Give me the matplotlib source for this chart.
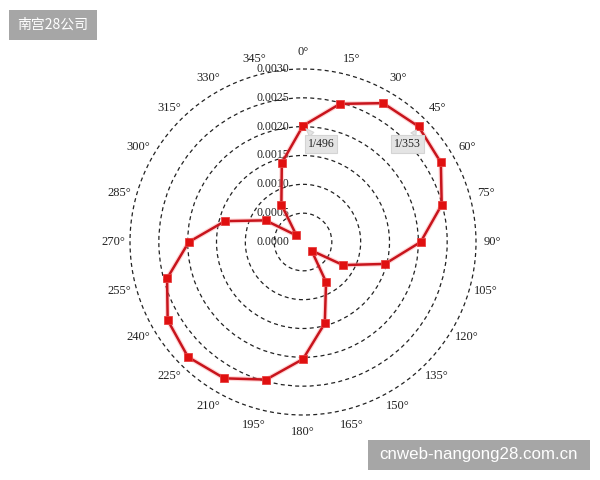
import numpy as np
import matplotlib
matplotlib.use("Agg")
import matplotlib.pyplot as plt
from matplotlib.transforms import offset_copy
from matplotlib.patches import Rectangle

# Data
angles_deg = [0, 15, 30, 45, 60, 75, 90, 105, 120, 135, 150, 165,
              180, 195, 210, 225, 240, 255, 270, 285, 300, 315, 330, 345]
values = [0.002016, 0.00248, 0.00278, 0.002833, 0.00276, 0.00249, 0.00204, 0.00147,
          0.00080, 0.00021, 0.00080, 0.00146, 0.00203, 0.00247, 0.00273, 0.00282,
          0.00271, 0.00244, 0.00198, 0.00140, 0.00075, 0.00016, 0.00075, 0.00142]
r_ticks = [0.0000, 0.0005, 0.0010, 0.0015, 0.0020, 0.0025, 0.0030]
r_tick_labels = ["0.0000", "0.0005", "0.0010", "0.0015", "0.0020", "0.0025", "0.0030"]
theta_ticks = list(range(0, 360, 15))
theta_labels = [f"{a}°" for a in theta_ticks]
annot_angles = [0, 45]
annot_texts = ["1/496", "1/353"]

serif = ["Liberation Serif", "DejaVu Serif"]

fig = plt.figure(figsize=(6, 4.8), dpi=100)
ax = fig.add_axes([130/600, 65/480, 346/600, 346/480], projection="polar")
ax.set_theta_zero_location("N")
ax.set_theta_direction(-1)
ax.set_ylim(0, 0.0030)
ax.spines["polar"].set_visible(False)
ax.xaxis.grid(False)
ax.set_yticks(r_ticks)
ax.set_yticklabels([])
ax.yaxis.grid(True, color="#222222", linestyle=(0, (3.2, 2.6)), linewidth=0.9)
for gl in ax.yaxis.get_gridlines():
    gl.set_clip_on(False)
ax.set_xticks(np.deg2rad(theta_ticks))
ax.set_xticklabels(theta_labels, fontsize=9, family=serif, color="#222222")
ax.tick_params(axis="x", pad=1.5)

# radial labels
tr = offset_copy(ax.transData, fig=fig, x=-30, y=0, units="dots")
for r, lab in zip(r_ticks, r_tick_labels):
    ax.text(0, r, lab, transform=tr, ha="center", va="center",
            fontsize=8.5, family=serif, color="#222222", zorder=2)

th = np.deg2rad(angles_deg + [angles_deg[0]])
vals = values + [values[0]]
# glow
ax.plot(th, vals, color="#ff9a9a", linewidth=3.5, alpha=0.4, zorder=3, clip_on=False)
ax.plot(th, vals, color="#c8141c", linewidth=1.8, zorder=4, clip_on=False,
        marker="s", markersize=5.8, markerfacecolor="#e01010",
        markeredgecolor="#e84040", markeredgewidth=0.6)

for a, t, off in zip(annot_angles, annot_texts, [(13, -13), (-8, -12.5)]):
    idx = angles_deg.index(a)
    r = values[idx]
    ax.annotate(t, xy=(np.deg2rad(a), r), xytext=off, textcoords="offset points",
                fontsize=8.5, family=serif, color="#222222",
                ha="center", va="center", zorder=6,
                bbox=dict(boxstyle="square,pad=0.25", fc="#e4e4e4", ec="#d4d4d4", lw=0.8),
                arrowprops=dict(arrowstyle="wedge,tail_width=0.5,shrink_factor=0.5",
                                fc="#e4e4e4", ec="#d4d4d4", lw=0.8, shrinkA=0, shrinkB=3),
                annotation_clip=False)

# watermark boxes
fig.patches.append(Rectangle((9/600, 1 - 40/480), 88/600, 30/480, transform=fig.transFigure,
                             fc="#a6a6a6", ec="none", zorder=10))
fig.text(53/600, 1 - 25/480, "南宫28公司", fontsize=10, color="white",
         family=["Noto Sans CJK SC", "DejaVu Sans"], va="center", ha="center", zorder=11)
fig.patches.append(Rectangle((368/600, 1 - 470/480), 222/600, 30/480, transform=fig.transFigure,
                             fc="#a6a6a6", ec="none", zorder=10))
fig.text(479/600, 1 - 455/480, "cnweb-nangong28.com.cn", fontsize=12.2, color="white",
         family=["Liberation Sans", "DejaVu Sans"], va="center", ha="center", zorder=11)

fig.savefig("out.png", dpi=100, facecolor="white")
